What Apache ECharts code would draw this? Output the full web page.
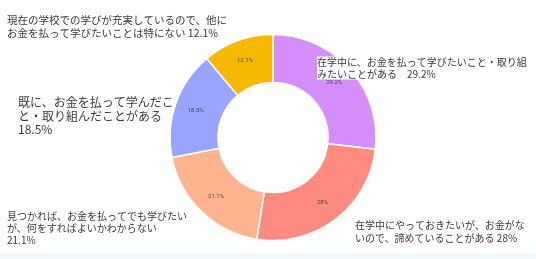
<!DOCTYPE html>
<html>
<head>
<meta charset="utf-8">
<script src="https://cdn.jsdelivr.net/npm/echarts@6/dist/echarts.min.js"></script>
<style>
html,body{margin:0;padding:0;background:#fff;}
#main{width:536px;height:259px;}
</style>
</head>
<body>
<div id="main"></div>
<script>
const categories = [
  '在学中に、お金を払って学びたいこと・取り組\nみたいことがある',
  '在学中にやっておきたいが、お金がな\nいので、諦めていることがある',
  '見つかれば、お金を払ってでも学びたい\nが、何をすればよいかわからない',
  '既に、お金を払って学んだこ\nと・取り組んだことがある',
  '現在の学校での学びが充実しているので、他に\nお金を払って学びたいことは特にない'
];
const values = [29.2, 28, 21.1, 18.5, 12.1];
const valueLabels = ['29.2%', '28%', '21.1%', '18.5%', '12.1%'];
const separators = ['　', ' ', '\n', '\n', ' '];
const colors = ['#d38ef9', '#ff8a80', '#ffb38f', '#98a4fd', '#f6b900'];

// label layout (left x, top y, font size, line height)
const labelPos = [
  {x: 317, y: 56.5, fs: 10, lh: 11.5, bg: '#fff'},
  {x: 355, y: 218.5, fs: 10, lh: 13, bg: 'transparent'},
  {x: 7, y: 210.5, fs: 10, lh: 12, bg: 'transparent'},
  {x: 18, y: 96, fs: 12, lh: 13.5, bg: 'transparent'},
  {x: 7, y: 13, fs: 10.5, lh: 13.5, bg: 'transparent'}
];

const chart = echarts.init(document.getElementById('main'));
const baseData = values.map((v, i) => ({name: categories[i], value: v}));

chart.setOption({
  animation: false,
  backgroundColor: '#fff',
  graphic: [{
    type: 'rect', shape: {x: 0, y: 254, width: 536, height: 5},
    style: {fill: '#eff9f9'}, silent: true
  }],
  series: [
    {
      type: 'pie',
      center: [273, 137.5],
      radius: [55, 103],
      startAngle: 90,
      data: baseData.map((d, i) => ({...d, itemStyle: {color: colors[i]}})),
      itemStyle: {borderColor: '#fff', borderWidth: 1.5},
      label: {
        show: true, position: 'inside',
        formatter: p => valueLabels[p.dataIndex],
        fontSize: 6, color: '#444', fontFamily: 'Roboto'
      },
      labelLine: {show: false},
      emphasis: {disabled: true}
    },
    {
      type: 'pie',
      z: 5,
      center: [273, 137.5],
      radius: [55, 103],
      startAngle: 90,
      silent: true,
      data: baseData.map((d, i) => ({
        ...d,
        itemStyle: {color: 'transparent', borderWidth: 0},
        label: {
          fontSize: labelPos[i].fs, lineHeight: labelPos[i].lh,
          backgroundColor: labelPos[i].bg
        }
      })),
      label: {
        show: true, position: 'outside',
        overflow: 'none',
        formatter: p => categories[p.dataIndex] + separators[p.dataIndex] + valueLabels[p.dataIndex],
        color: '#3a3a3a',
        fontFamily: '"Noto Sans CJK JP", sans-serif',
        align: 'left'
      },
      labelLine: {show: false},
      labelLayout: function (params) {
        const p = labelPos[params.dataIndex];
        return {x: p.x, y: p.y, align: 'left', verticalAlign: 'top', moveOverlap: null};
      },
      emphasis: {disabled: true}
    }
  ]
});
</script>
</body>
</html>
